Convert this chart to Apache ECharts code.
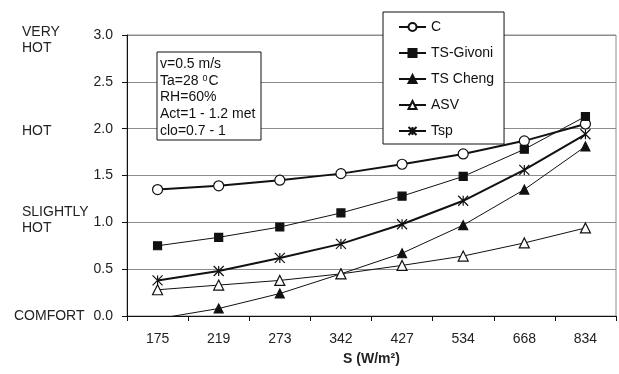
<!DOCTYPE html>
<html><head><meta charset="utf-8">
<script src="https://cdn.jsdelivr.net/npm/echarts@6/dist/echarts.min.js"></script>
<style>html,body{margin:0;padding:0;background:#fff}#c{width:619px;height:374px}</style>
</head><body><div id="c"></div>
<script>
const categories = ['175','219','273','342','427','534','668','834'];
const seriesC      = [1.35,1.39,1.45,1.52,1.62,1.73,1.87,2.05];
const seriesGivoni = [0.75,0.84,0.95,1.10,1.28,1.49,1.78,2.13];
const seriesCheng  = [-0.03,0.08,0.24,0.45,0.67,0.97,1.35,1.81];
const seriesASV    = [0.28,0.33,0.38,0.45,0.54,0.64,0.78,0.94];
const seriesTsp    = [0.38,0.48,0.62,0.77,0.98,1.23,1.56,1.94];
const comfortValues = [3, 2, 1, 0];
const comfortLabels = ['VERY\nHOT', 'HOT', 'SLIGHTLY\nHOT', 'COMFORT'];
const notes = ['v=0.5 m/s', 'Ta=28 {sup|0}C', 'RH=60%', 'Act=1 - 1.2 met', 'clo=0.7 - 1'];

const FONT = "'Liberation Sans', Arial, sans-serif";
const chart = echarts.init(document.getElementById('c'), null, {renderer: 'canvas'});
const asterisk = 'path://M5 0L5 10M0 0L10 10M0 10L10 0';

function mk(name, data, symbol, size, fill, lw) {
  return {
    name, type: 'line', data, symbol, symbolSize: size, showSymbol: true, clip: true,
    lineStyle: {color: '#111', width: lw},
    itemStyle: {color: fill, borderColor: '#111', borderWidth: 1.2},
    emphasis: {disabled: true}, animation: false, z: 3
  };
}

const option = {
  animation: false,
  textStyle: {fontFamily: FONT},
  grid: {left: 127, right: 3, top: 35, bottom: 58, show: true, borderColor: '#8c8c8c', borderWidth: 1, backgroundColor: 'transparent'},
  legend: {
    orient: 'vertical', left: 383, top: 12,
    padding: [8, 10, 6, 15], itemGap: 12, itemWidth: 27, itemHeight: 10,
    backgroundColor: '#fff', borderColor: '#111', borderWidth: 1,
    textStyle: {fontFamily: FONT, fontSize: 14, color: '#111', lineHeight: 14},
    data: ['C', 'TS-Givoni', 'TS Cheng', 'ASV', 'Tsp'], z: 10
  },
  xAxis: {
    type: 'category', data: categories, boundaryGap: true,
    axisLine: {lineStyle: {color: '#111', width: 1}},
    axisTick: {show: true, length: 5, lineStyle: {color: '#111'}},
    axisLabel: {fontFamily: FONT, fontSize: 14, color: '#222', margin: 16},
    splitLine: {show: false},
    name: 'S (W/m²)', nameLocation: 'middle', nameGap: 36,
    nameTextStyle: {fontFamily: FONT, fontSize: 14, fontWeight: 'bold', color: '#222'}
  },
  yAxis: {
    type: 'value', min: 0, max: 3, interval: 0.5,
    axisLine: {show: true, lineStyle: {color: '#111', width: 1}},
    axisTick: {show: true, length: 5, lineStyle: {color: '#111'}},
    axisLabel: {fontFamily: FONT, fontSize: 14, color: '#222', margin: 14, formatter: v => v.toFixed(1)},
    splitLine: {show: true, lineStyle: {color: '#8c8c8c', width: 1}}
  },
  series: [
    mk('C', seriesC, 'circle', 10, '#fff', 2),
    mk('TS-Givoni', seriesGivoni, 'rect', 8, '#111', 1),
    mk('TS Cheng', seriesCheng, 'triangle', 9, '#111', 1),
    mk('ASV', seriesASV, 'triangle', 10, '#fff', 1),
    mk('Tsp', seriesTsp, asterisk, 10, '#111', 2)
  ]
};
chart.setOption(option);

const g = [];
comfortValues.forEach((v, i) => {
  const y = chart.convertToPixel({yAxisIndex: 0}, v);
  const lbl = comfortLabels[i];
  const lines = lbl.split('\n').length;
  const off = lines > 1 ? (i === 0 ? 5 : -2) : (i === 1 ? 2.5 : 0.5);
  g.push({type: 'text', left: (lbl === 'COMFORT') ? 14 : 22, top: y + off - lines * 8,
    style: {text: lbl, font: '14px ' + FONT, fill: '#222', lineHeight: 16}, z: 5});
});
g.push({type: 'rect', shape: {x: 157, y: 52, width: 104, height: 88},
  style: {fill: '#fff', stroke: '#111', lineWidth: 1}, z: 6});
notes.forEach((t, i) => {
  g.push({type: 'text', x: 160, y: 64 + i * 16.7,
    style: {text: t, font: '14px ' + FONT, fill: '#111', verticalAlign: 'middle',
      rich: {sup: {fontSize: 9, fontFamily: FONT, verticalAlign: 'top', lineHeight: 10, padding: [0, 1, 6, 0]}}},
    z: 7});
});
chart.setOption({graphic: g});
</script></body></html>
